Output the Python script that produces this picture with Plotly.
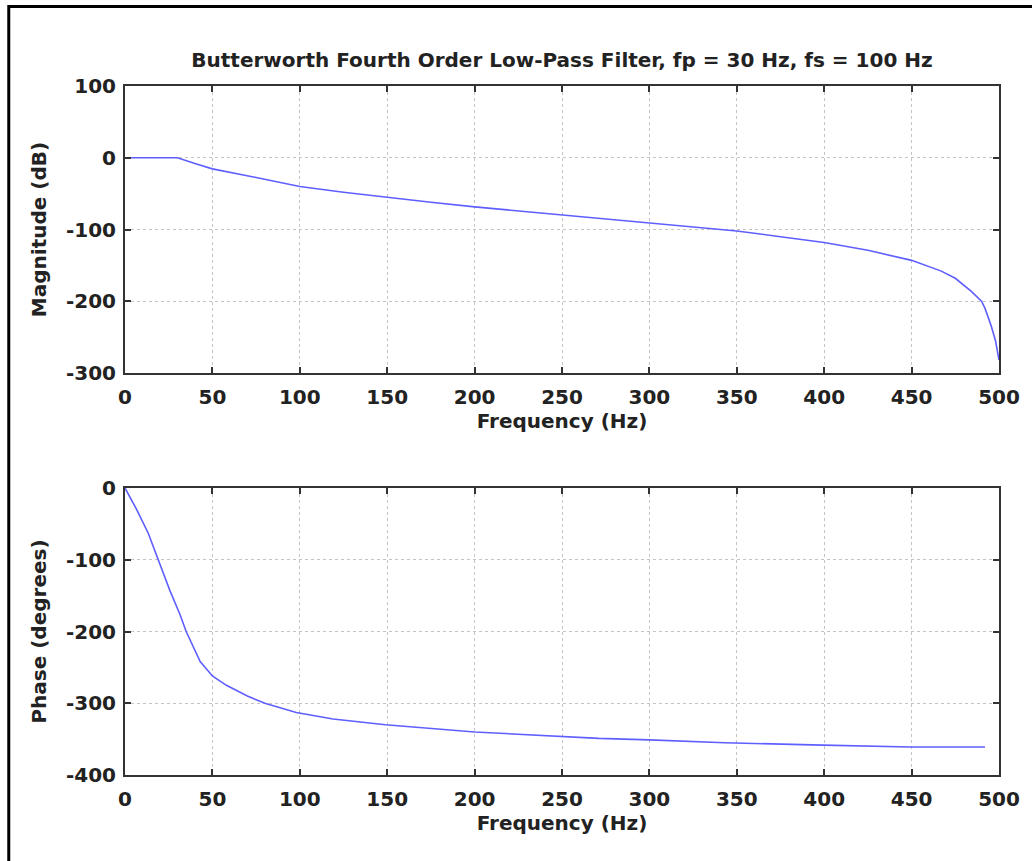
import plotly.graph_objects as go
from plotly.subplots import make_subplots

# Magnitude response
mag_freq = [0, 10, 20, 30, 40, 50, 75, 100, 125, 150, 175, 200, 225, 250, 275, 300,
            325, 350, 375, 400, 425, 450, 467, 475, 484, 490, 492, 495.6, 498, 500]
mag_db = [0, 0, 0, 0, -8, -15.5, -27.5, -40, -48, -55.5, -62, -68.5, -74, -79.5, -85,
          -90.5, -96, -102, -110, -118, -129, -143, -158, -168, -186, -200, -210, -235,
          -255, -282]

# Phase response
ph_freq = [0, 6.7, 13.3, 19, 25.7, 31.4, 35, 43, 50, 58, 70, 80, 98, 119, 149, 200,
           250, 271, 300, 343, 393, 449, 492]
ph_deg = [0, -30, -63, -100, -143, -176, -200, -242, -262, -275, -290, -300, -313,
          -322, -330, -340, -346, -349, -351, -355, -358, -361, -361]

x_ticks = [0, 50, 100, 150, 200, 250, 300, 350, 400, 450, 500]
mag_ticks = [-300, -200, -100, 0, 100]
ph_ticks = [-400, -300, -200, -100, 0]

title_text = "Butterworth Fourth Order Low-Pass Filter, fp = 30 Hz, fs = 100 Hz"

W, H = 1032, 861
ML, MT = 125, 86
MR = W - 1001
MB = H - 775
plot_h = H - MT - MB
plot_w = W - ML - MR

def ypaper(py):
    return (775 - py) / plot_h

fig = make_subplots(rows=2, cols=1, vertical_spacing=0.1)
line_col = "rgb(95,95,255)"
fig.add_trace(go.Scatter(x=mag_freq, y=mag_db, mode="lines",
                         line=dict(color=line_col, width=1.6), showlegend=False), row=1, col=1)
fig.add_trace(go.Scatter(x=ph_freq, y=ph_deg, mode="lines",
                         line=dict(color=line_col, width=1.6), showlegend=False), row=2, col=1)

font_fam = "DejaVu Sans"
tick_font = dict(family=font_fam, size=20, color="#222", weight="bold")
title_font = dict(family=font_fam, size=20, color="#222", weight="bold")

axis_common = dict(showline=True, linecolor="#333", linewidth=2, mirror="ticks",
                   ticks="inside", ticklen=6, tickcolor="#333", tickwidth=1.5,
                   showgrid=True, gridcolor="#c4c4c4", griddash="dot", gridwidth=1,
                   zeroline=False, tickfont=tick_font)

fig.update_xaxes(**axis_common, range=[0, 500], tickvals=x_ticks,
                 ticktext=[str(v) for v in x_ticks],
                 ticklabelstandoff=5,
                 title=dict(text="Frequency (Hz)", font=title_font, standoff=6))
fig.update_yaxes(**axis_common, ticklabelstandoff=3,
                 title=dict(font=title_font, standoff=14))
fig.update_yaxes(range=[-300, 100], tickvals=mag_ticks,
                 ticktext=[str(v) for v in mag_ticks], domain=[ypaper(373), 1],
                 title_text="Magnitude (dB)", row=1, col=1)
fig.update_yaxes(range=[-400, 0], tickvals=ph_ticks,
                 ticktext=[str(v) for v in ph_ticks], domain=[0, ypaper(488)],
                 title_text="Phase (degrees)", row=2, col=1)

# outer figure frame
fig.add_shape(type="rect", xref="paper", yref="paper",
              x0=(8.5 - ML) / plot_w, x1=1.2,
              y0=-0.3, y1=ypaper(6.5),
              line=dict(color="black", width=3))

fig.update_layout(
    width=W, height=H,
    margin=dict(l=ML, r=MR, t=MT, b=MB),
    paper_bgcolor="white", plot_bgcolor="white",
    title=dict(text=title_text, x=0.5, xref="paper", xanchor="center",
               y=1 - 60 / H, yref="container", yanchor="middle",
               font=dict(family=font_fam, size=20, color="#222", weight="bold")),
)

fig.write_html("out.html",
               config={"displayModeBar": False},
               post_script="document.body.style.margin='0';document.body.style.overflow='hidden';")
